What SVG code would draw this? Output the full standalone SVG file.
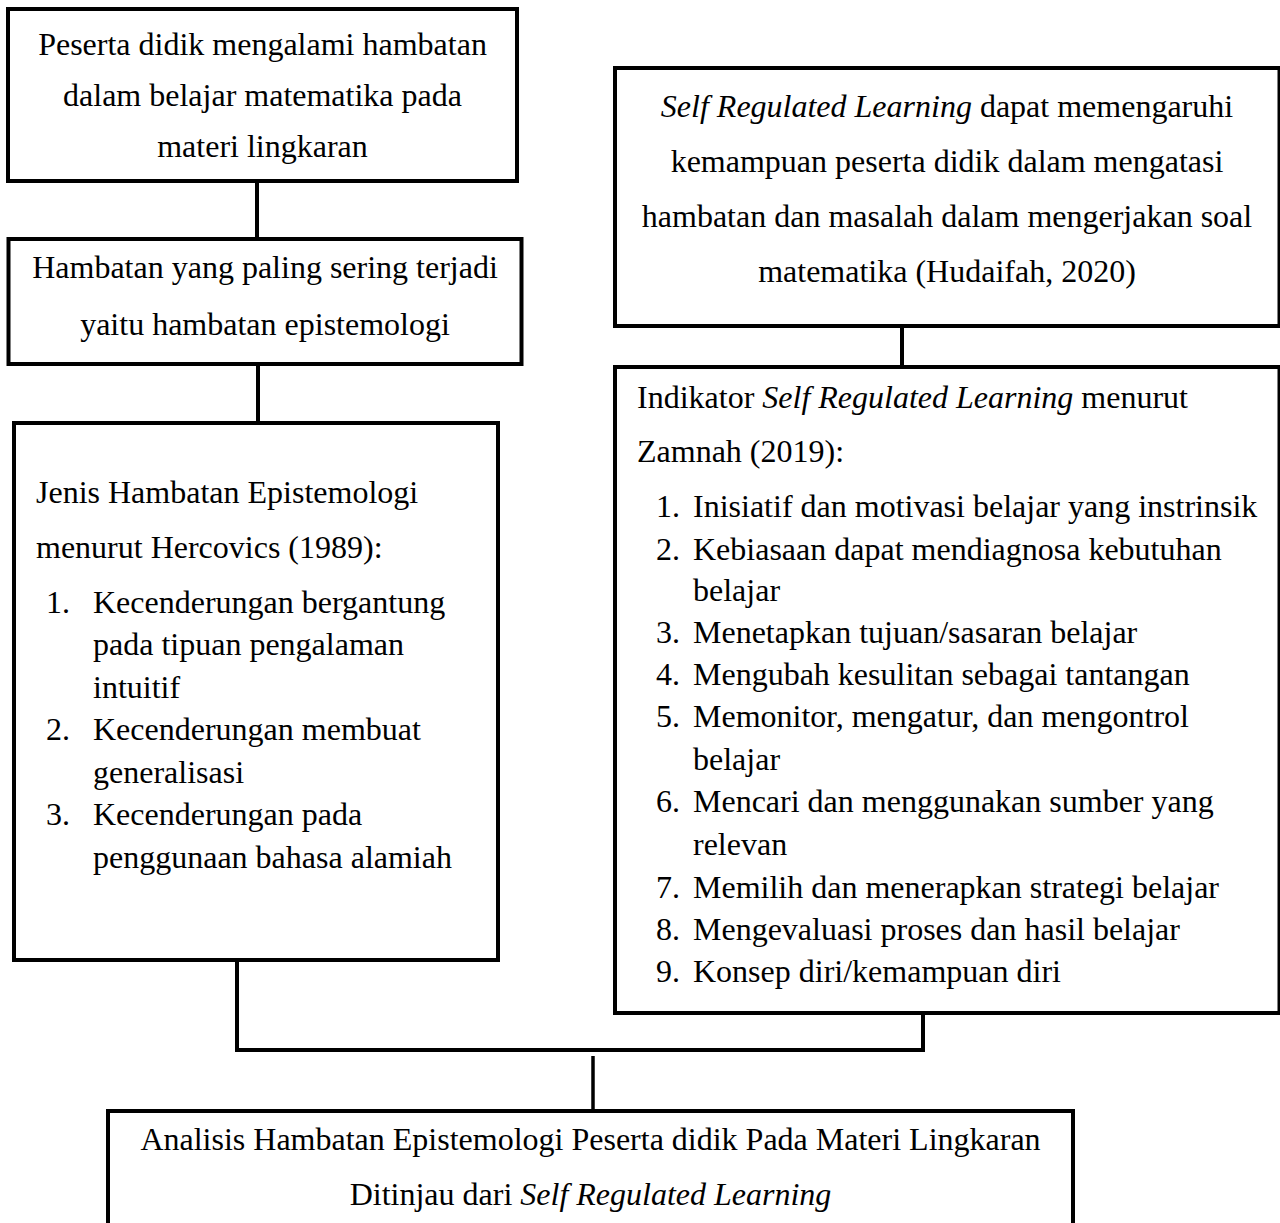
<svg xmlns="http://www.w3.org/2000/svg" width="1280" height="1223" viewBox="0 0 1280 1223">
<style>
.box{fill:#fff;stroke:#000;stroke-width:4}
.con{fill:none;stroke:#000;stroke-width:4}
text{font-family:"Liberation Serif","Times New Roman",serif;font-size:32px;fill:#000}
.c{text-anchor:middle}
.i{font-style:italic}
</style>
<rect width="1280" height="1223" fill="#fff"/>
<g id="connectors">
<line class="con" x1="257" y1="181" x2="257" y2="239"/>
<line class="con" x1="258" y1="364" x2="258" y2="423"/>
<line class="con" x1="902" y1="326" x2="902" y2="367"/>
<path class="con" d="M237 960 V1050 H923 V1013"/>
<line class="con" x1="593" y1="1056" x2="593" y2="1111" style="stroke-width:3.5"/>
</g>
<g id="node1">
<rect class="box" x="8" y="9" width="509" height="172"/>
<text class="c" x="262.5" y="55">Peserta didik mengalami hambatan</text>
<text class="c" x="262.5" y="106">dalam belajar matematika pada</text>
<text class="c" x="262.5" y="157">materi lingkaran</text>
</g>
<g id="node2">
<rect class="box" x="8.5" y="239" width="513" height="125"/>
<text class="c" x="265" y="278">Hambatan yang paling sering terjadi</text>
<text class="c" x="265" y="335">yaitu hambatan epistemologi</text>
</g>
<g id="node3">
<rect class="box" x="14" y="423" width="484" height="537"/>
<text x="36" y="503">Jenis Hambatan Epistemologi</text>
<text x="36" y="558">menurut Hercovics (1989):</text>
<text x="46" y="613">1.</text><text x="93" y="613">Kecenderungan bergantung</text>
<text x="93" y="655">pada tipuan pengalaman</text>
<text x="93" y="698">intuitif</text>
<text x="46" y="740">2.</text><text x="93" y="740">Kecenderungan membuat</text>
<text x="93" y="783">generalisasi</text>
<text x="46" y="825">3.</text><text x="93" y="825">Kecenderungan pada</text>
<text x="93" y="868">penggunaan bahasa alamiah</text>
</g>
<g id="node4">
<rect class="box" x="615" y="68" width="664.5" height="258"/>
<text class="c" x="947" y="117"><tspan class="i">Self Regulated Learning</tspan> dapat memengaruhi</text>
<text class="c" x="947" y="172">kemampuan peserta didik dalam mengatasi</text>
<text class="c" x="947" y="227">hambatan dan masalah dalam mengerjakan soal</text>
<text class="c" x="947" y="282">matematika (Hudaifah, 2020)</text>
</g>
<g id="node5">
<rect class="box" x="615" y="367" width="664.5" height="646"/>
<text x="637" y="408">Indikator <tspan class="i">Self Regulated Learning</tspan> menurut</text>
<text x="637" y="462">Zamnah (2019):</text>
<text x="656" y="517">1.</text><text x="693" y="517">Inisiatif dan motivasi belajar yang instrinsik</text>
<text x="656" y="560">2.</text><text x="693" y="560">Kebiasaan dapat mendiagnosa kebutuhan</text>
<text x="693" y="601">belajar</text>
<text x="656" y="643">3.</text><text x="693" y="643">Menetapkan tujuan/sasaran belajar</text>
<text x="656" y="685">4.</text><text x="693" y="685">Mengubah kesulitan sebagai tantangan</text>
<text x="656" y="727">5.</text><text x="693" y="727">Memonitor, mengatur, dan mengontrol</text>
<text x="693" y="770">belajar</text>
<text x="656" y="812">6.</text><text x="693" y="812">Mencari dan menggunakan sumber yang</text>
<text x="693" y="855">relevan</text>
<text x="656" y="898">7.</text><text x="693" y="898">Memilih dan menerapkan strategi belajar</text>
<text x="656" y="940">8.</text><text x="693" y="940">Mengevaluasi proses dan hasil belajar</text>
<text x="656" y="982">9.</text><text x="693" y="982">Konsep diri/kemampuan diri</text>
</g>
<g id="node6">
<rect class="box" x="108" y="1111" width="965" height="140"/>
<text class="c" x="590.5" y="1150">Analisis Hambatan Epistemologi Peserta didik Pada Materi Lingkaran</text>
<text class="c" x="590.5" y="1205">Ditinjau dari <tspan class="i">Self Regulated Learning</tspan></text>
</g>
</svg>
